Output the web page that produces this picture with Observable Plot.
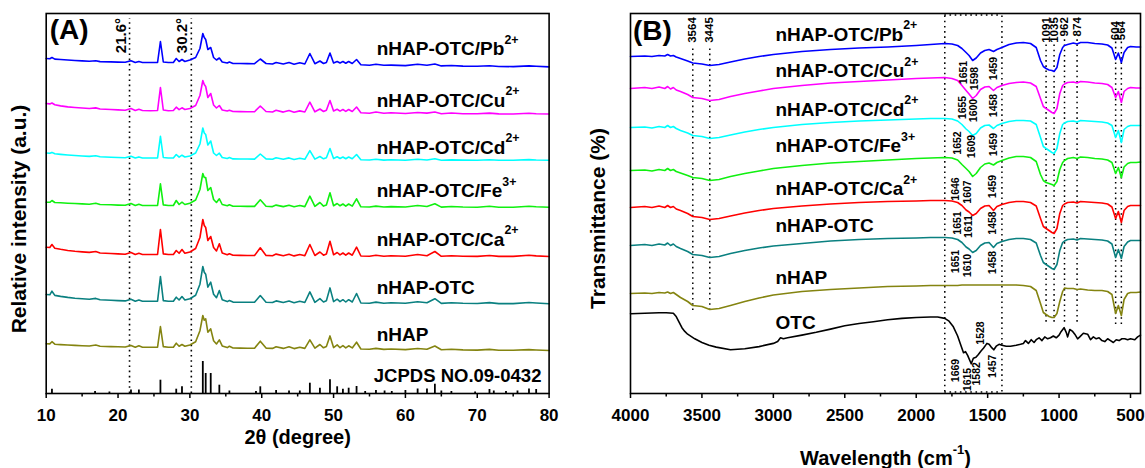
<!DOCTYPE html>
<html><head><meta charset="utf-8">
<script src="https://cdn.jsdelivr.net/npm/d3@7"></script>
<script src="https://cdn.jsdelivr.net/npm/@observablehq/plot@0.6"></script>
<style>
html,body{margin:0;padding:0;background:#fff;}
#fig{display:flex;width:1145px;height:468px;overflow:hidden;}
#fig svg{overflow:visible;}
</style></head><body><div id="fig"></div>
<script>
// ---------------- Panel A: XRD ----------------
const xrdAngles = [10,10.5,10.8,11.2,12,13,14,15,16,16.9,17.5,19,20,21,21.8,22.4,22.9,23.4,24.5,25.5,25.9,26.3,27,27.7,28.1,28.5,28.9,29.3,30,30.8,31.4,31.8,32.0,32.2,32.5,32.9,33.3,33.7,34.1,34.5,35.2,35.5,36,37,38,39,39.8,40.6,41.5,42.0,43,43.8,44.5,45.3,46,46.7,47.4,48.1,48.6,49.0,49.5,50.0,50.5,50.9,51.3,51.7,52.1,52.6,53.2,53.8,55,55.9,57,58,60,61.7,63,64.1,65,66.4,68,70,71.7,73,75,77.2,78.2,80];
const xrdPb = [4,3.8,5,3.4,3,2.5,2,1.6,1.2,1.8, 0.9,0.6,0.4,0.2,1.8,0,1,0,0,0, 21,0.5,0,0,4,1,3,1,2.5,5, 14,29,25,23,13,15,5,2.5,4.5,0.5, -0.5,0.5,-1,-1,-1.1,-1.2,3.5,-1,-1.5,0, -1.5,0,-1.7,-0.3,-1.5,9,-1.2,1.5,-1,0, 9.5,-0.5,1,-0.5,1,-0.8,1,-1,3,-2.2, -2.7,-1.8,-2.8,-2.6,-3.1,-1.8,-2.8,-1.5,-3.4,-3, -3.6,-3.8,-3.2,-4,-4.1,-3.4,-3.8,-4.4];
const xrdCu = [7,6.6,7.5,5.8,4.6,3.6,3,2.5,2,2.6, 1.5,1,0.6,0.3,2,0,1.2,0,-0.2,0, 23,0.5,-0.2,0,3.3,0.8,2.7,1,2,5, 15,30,26,24,13,17,5.5,2.5,5,0.5, -0.5,0.3,-1,-1.1,-1.2,-1.2,4.5,-1,-1.5,0.2, -1.6,0,-1.8,-0.4,-1.5,8.3,-1.3,1.5,-1,0.3, 10,-0.5,1.2,-0.6,1,-0.9,1,-1,3.5,-2.3, -2.7,-1.5,-2.8,-2.3,-3,-2,-2.6,-1.5,-3.2,-2.5, -3.2,-3.3,-2.6,-3.4,-3.5,-2.8,-3.2,-3.5];
const xrdCd = [5,4.7,5.6,4.2,3.6,3,2.5,2,1.6,2.2, 1.2,0.8,0.5,0.3,1.8,0,1.1,0,0,0, 21.7,0.5,0,0,3.5,0.8,2.8,1,2,5, 14,30,25,23.5,13,17,5,2.5,4.8,0.5, -0.5,0.4,-0.9,-1,-1,-1.1,4,-0.9,-1.3,0.2, -1.3,0.1,-1.5,-0.2,-1.3,7.3,-1.1,1.5,-0.8,0.2, 9.5,-0.4,1.2,-0.5,1,-0.7,1,-0.8,3.5,-1.8, -2,-1.2,-2.1,-1.8,-2.2,-1.3,-2,-0.8,-2.3,-1.9, -2.1,-2.3,-1.7,-2.3,-2.3,-1.6,-2,-2.2];
const xrdFe = [3.3,3.2,5,3,2.7,2.3,2,1.6,1.3,2.3, 1,0.7,0.4,0.2,1.9,0,1.2,0,0,0, 21.7,0.6,0,0,5,1,3.3,1,2.3,5.5, 16,32,28,28,15,18,6,3,6.7,1, -0.3,0.7,-0.7,-0.8,-0.9,-0.9,5.7,-0.8,-1.1,0.4, -1.1,0.3,-1.2,0,-1.1,9.3,-0.9,3,-0.6,0.5, 12.7,-0.2,2,-0.3,1.5,-0.6,1.5,-0.6,6.7,-1.3, -1.5,-0.6,-1.5,-1.1,-1.5,0,-1,1.8,-1.6,-1, -1.5,-1.7,-0.8,-1.7,-1.7,-0.8,-1.3,-1.7];
const xrdCa = [7.3,7,10,6.3,5.2,4,3.2,2.6,2.1,3, 1.5,1,0.6,0.3,2,0,1.2,0,0,0, 25,0.6,0,0,4,1.2,5,1.2,2.5,6, 17,35,29,27,14,18,7,3.5,10.7,1.5, -0.3,0.8,-0.8,-0.9,-1,-1,6.7,-0.9,-1.2,0.4, -1.2,0.3,-1.4,0,-1.2,10,-1,2.5,-0.7,0.5, 13.3,-0.3,2,-0.4,1.5,-0.7,1.5,-0.7,7.3,-1.5, -1.7,-0.7,-1.7,-1.2,-1.7,0,-1.2,3,-1.8,-1.2, -1.7,-1.9,-1,-1.9,-1.9,-0.8,-1.4,-2];
const xrdOTC = [6.7,6.4,10,5.8,4.8,3.8,3,2.5,2,2.8, 1.4,0.9,0.6,0.3,2,0,1.2,0,0,0, 24.7,0.6,0,0,4,1.2,4.7,1.2,2.5,6, 17,34.7,29,27,14,19,7,3.5,10.7,1.5, -0.4,0.7,-0.9,-1,-1.1,-1.1,5.7,-1,-1.3,0.3, -1.3,0.2,-1.5,-0.1,-1.3,9.3,-1.1,2.5,-0.8,0.4, 13.3,-0.4,2,-0.5,1.5,-0.8,1.5,-0.8,7.7,-1.8, -2,-0.9,-2,-1.5,-2.1,-0.5,-1.6,2.5,-2.2,-1.6, -2.1,-2.3,-1.4,-2.4,-2.4,-1.3,-1.8,-2.6];
const xrdHAP = [3.5,3.3,5.5,3,2.6,2.2,1.8,1.5,1.2,2.2, 0.9,0.6,0.4,0.2,1.8,0,1.4,0,0,0, 20.7,0.6,0,0,4,1,2.7,1,2.2,5.5, 16.5,31.7,27,28.3,15,18.3,6.5,3.2,7.3,1.3, -0.4,0.9,-0.8,-0.9,-1,-1,6,-0.9,-1.2,0.4, -1.2,0.4,-1.4,0,-1.2,7.3,-1,2.7,-0.6,0.7, 11.3,-0.4,2.3,-0.5,1.6,-0.7,1.4,-0.7,5,-1.8, -2.1,-1.2,-2.2,-1.8,-2.4,-1.3,-2.1,1.2,-2.6,-2.1, -2.7,-2.9,-2.2,-3,-3,-2.4,-2.8,-3.3];
const xrdSeries = [xrdPb, xrdCu, xrdCd, xrdFe, xrdCa, xrdOTC, xrdHAP];
const xrdNames = ["nHAP-OTC/Pb^2+", "nHAP-OTC/Cu^2+", "nHAP-OTC/Cd^2+", "nHAP-OTC/Fe^3+", "nHAP-OTC/Ca^2+", "nHAP-OTC", "nHAP"];
const xrdColors = ["#0000ff", "#ff00ff", "#00ffff", "#10f010", "#ff0000", "#0a8080", "#848410"];
const xrdOffsets = [331, 283, 235.5, 188, 139, 92.3, 46.3];
const xrdLabelY = [338.7, 287, 240, 196.3, 148, 100, 53];
const xrdLabelAngle = 56;
const jcpdsName = "JCPDS NO.09-0432";
const jcpdsLabelY = 11.3;
const jcpdsAngles = [10.8,16.8,18.8,21.8,22.9,25.9,28.1,28.9,31.8,32.2,32.9,34.1,35.5,39.2,39.8,42.0,43.8,45.3,46.7,48.1,49.5,50.5,51.3,52.1,53.2,54.4,55.9,57.1,58.1,60.0,61.7,63.0,64.1,65.0,66.4,69.7,71.7,72.3,74.0,75.6,77.2,78.2];
const jcpdsHeights = [4.3,2,1.5,3.5,3.5,13.3,4.3,6.7,32,20,20,8.3,2.5,2,6.7,3,2.5,2.5,10.3,5.3,13.7,6.7,4.3,5.3,7,2,3,2.5,2,3,4.5,4.5,9.3,2.5,2,1.5,4,2.5,2,2.5,4.5,4];
const xrdMarkers = [21.6, 30.2];
const xrdMarkerText = ["21.6°", "30.2°"];
const xrdMajorTicks = [10,20,30,40,50,60,70,80];
const xrdMinorTicks = [15,25,35,45,55,65,75];

// ---------------- Panel B: FTIR ----------------
const ftirGrid = [4000,3900,3850,3800,3760,3740,3720,3700,3680,3650,3600,3564,3500,3445,3380,3300,3200,3100,3000,2800,2600,2400,2200,2000,1900,1800,1750,1710,1680,1651,1630,1605,1580,1550,1520,1490,1459,1435,1400,1350,1300,1250,1200,1160,1130,1110,1091,1070,1050,1035,1015,995,975,962,940,900,874,850,800,750,700,660,630,604,585,564,545,520,500,460,430];
const ftirPb = [0,0.5,0,1,0.5,2,0.5,1,-0.5,-2, -4.5,-6.5,-7.5,-9,-8,-5.5,-2.5,0,2,5, 7,8.5,9.5,11,12,13,12.5,11,8,4, 1,-4,-1.5,3.5,6,7,5,7,9,12, 13.5,14,13,9,-4,-10,-12,-13.5,-14,-15, -11,2,9,11,12,13.5,12.5,14,14,13, 12.5,11.5,8.5,-3,3.5,-6,4,9,10,9.5, 9.5];
const ftirCu = [0,1,0,1.5,0,2,-0.5,1,-1.5,-3, -6,-9,-10,-12,-11,-8,-5,-2.5,0,3, 5.5,7,8.5,10,10.5,11,10,8,3,-2, -5.5,-10,-7,-1,1.5,2,-2,1,3,5, 6,6.5,5.5,2,-10,-18,-20,-22,-24,-25, -20,-5,3,4.5,6,6.5,5.5,7,6.5,5.5, 5,4,1,-9,-3,-14,-3,0,1,0.5, 0.5];
const ftirCd = [0,0.5,-0.5,1,0,2,0,1,-1,-3, -5.5,-8,-9,-11,-10,-7.5,-4.5,-2,0,3, 5,6.5,7.5,8.5,9,9,8.5,6.5,3,-1.5, -4,-8,-6,-0.5,2,2.5,-1,2,4,6, 7,7,6.5,3,-10,-19,-21,-23,-25,-26, -21,-6,3,4.5,6,6.5,5.5,7,6.5,6, 5.5,4.5,2,-10,-3,-15,-2,1,2,2, 2];
const ftirFe = [0,0.5,-0.5,1,0,2,0,1,-1,-2.5, -5,-7,-8,-10,-9,-6,-3,-0.5,2,5, 7.5,9,10.5,12,12.5,13,12.5,10.5,6,2, -1,-6,-3,3,6.5,7.5,5.5,8,10,12.5, 14,14,13,9,-4,-10,-12,-13,-14,-15, -11,1,8,10,12,13,12,13.5,13,12, 11.5,10.5,8,-3,3,-7,3.5,7,8,8, 8.5];
const ftirCa = [0,1,0,1.5,0,2,0,1,-1.5,-3, -6,-9,-10,-12,-11,-8.5,-5.5,-3,-1,1.5, 3.5,5,6,6.5,7,7,6.5,5,2,-2.5, -4.5,-8,-6,-1,1.5,2,-3,1,3,5, 6,6,5,1.5,-11,-19,-21,-23,-25,-26, -21,-6,2,3.5,5,5.5,4.5,6,5.5,5, 4.5,3.5,0.5,-11,-4,-15,-3,1,2,2, 2];
const ftirOTCc = [0,1,0,1.5,0.5,2.5,0,1.5,-1,-3, -6,-9,-10,-12,-11,-8,-5,-2.5,-0.5,2, 4.5,6,7,7.5,8,8,7.5,6,3,-1.5, -3.5,-7,-5,0,2.5,3,-2,2,4,6, 7,7,6,2.5,-10,-17,-19,-21,-23,-24, -19,-5,3,4.5,6,6.5,5.5,7,6.5,6, 5.5,4.5,1.5,-12,-4,-13,-1,3.5,5,5, 5];
const ftirHAP = [0,0.5,0,1,0.5,1.5,0,1,-1,-4, -8,-12,-13,-16,-15,-12,-8,-4.5,-1.5,2, 4,5.5,7,7.5,8,8,8,8,8.5,8.5, 8.5,8.5,8.5,8.5,8.5,8.5,8.5,8.5,8.5,8.5, 8.5,8,7,3,-10,-19,-21,-23,-24,-24, -20,-8,2,5.5,5,5,4,4.5,3.5,3, 3,2,-1,-20,-12,-22,-6,0,1,1, 1.5];
const ftirSeries = [ftirPb, ftirCu, ftirCd, ftirFe, ftirCa, ftirOTCc, ftirHAP];
const ftirOffsets = [337, 305, 266, 223, 186, 148, 100];
const ftirColors = xrdColors;
const otcWn = [4000,3900,3800,3750,3700,3680,3660,3640,3620,3600,3550,3500,3450,3400,3300,3200,3100,3000,2970,2950,2930,2900,2800,2700,2600,2500,2400,2300,2200,2100,2000,1900,1850,1800,1770,1740,1710,1690,1669,1655,1640,1615,1600,1582,1565,1545,1528,1505,1490,1475,1457,1440,1420,1400,1370,1340,1300,1270,1250,1235,1215,1195,1175,1160,1140,1120,1100,1080,1060,1040,1020,1000,985,965,950,940,925,905,890,870,855,830,800,780,760,740,720,700,680,660,640,620,600,580,560,540,520,500,470,450,430];
const otcT = [0,0.5,1,1,0.5,-2.8,-8.3,-13.9,-17.6,-20.4,-25,-28.7,-31.5,-33.3,-36,-35,-32.8,-29.6,-27.8,-24,-25,-24,-21.3,-18.5,-15.3,-12,-9.7,-7.9,-6,-4.6,-3.7,-3.2,-3.2,-4.6,-7.4,-13,-22.2,-30.5,-38.9,-37.9,-41.6,-50,-44.4,-43.5,-40.7,-37,-34.2,-29.6,-30.5,-33.3,-36,-32.4,-30.5,-31.5,-32.4,-32.4,-31.5,-30.5,-29.6,-26.8,-29.6,-25.9,-28.7,-25.9,-24,-26.8,-23.1,-25,-24,-22.2,-24,-21.3,-17.6,-13.9,-18.5,-23.1,-15.7,-17.6,-20.4,-25,-23.1,-19.4,-20.4,-25.9,-23.1,-25,-24,-26.8,-27.8,-25,-26.8,-28.7,-25.9,-26.8,-25,-25,-25.9,-25,-25.9,-23.1,-21.3];
const otcOffset = 79.7;
const ftirNames = ["nHAP-OTC/Pb^2+", "nHAP-OTC/Cu^2+", "nHAP-OTC/Cd^2+", "nHAP-OTC/Fe^3+", "nHAP-OTC/Ca^2+", "nHAP-OTC", "nHAP", "OTC"];
const ftirLabelY = [353, 316.3, 278, 241.3, 198.7, 161.3, 109.7, 64.7];
const ftirLabelWn = 2985;
const ftirTopText = ["3564", "3445", "1091", "1035", "962", "874", "604", "564"];
const ftirTopWn = [3564, 3445, 1091, 1035, 962, 874, 604, 564];
const ftirTopEnd = [376.3, 376.3, 376.3, 376.3, 376.3, 376.3, 372.5, 372.5];
const ftirMarkTop = [346, 346, 350, 350, 355, 355, 353, 353];
const ftirMarkBottom = [83, 83, 71.3, 71.3, 71.3, 71.3, 69, 69];
const ftirBox = [1800, 1400];
const ftirBoxT = [1.5, 378.5];
const peakText = ["1651","1598","1459", "1655","1600","1458", "1652","1609","1459", "1646","1607","1459", "1651","1611","1458", "1651","1610","1458", "1669","1615","1582","1457","1528"];
const peakWn = [1666,1592,1457, 1676,1599,1459, 1713,1615,1457, 1725,1643,1468, 1711,1634,1468, 1725,1641,1466, 1725,1638,1575,1462,1550];
const peakT = [321,315,325, 286,283,288, 250.5,247,249, 204.5,201.5,207, 170.5,167,170.5, 132,128,131, 23,14,19.7,27.2,60.5];
const ftirMajorTicks = [4000,3500,3000,2500,2000,1500,1000,500];
const ftirMinorTicks = [3750,3250,2750,2250,1750,1250,750];

// ---------------- helpers ----------------
const FONT = "'Liberation Sans', Arial, Helvetica, sans-serif";
const dots = "1.6 3.6";
const SVGNS = "http://www.w3.org/2000/svg";
const plainInt = d => String(d);
function supify(root, scale = 0.65, raise = 0.58) {
  root.querySelectorAll("text").forEach(t => {
    const s = t.textContent;
    if (s.indexOf("^") < 0) return;
    const parts = s.split(/(\^[^_]*_?)/);
    t.textContent = "";
    let ret = false;
    parts.forEach(p => {
      if (!p) return;
      const ts = document.createElementNS(SVGNS, "tspan");
      if (p[0] === "^") {
        const closes = p.endsWith("_");
        ts.textContent = p.slice(1, closes ? -1 : undefined);
        ts.setAttribute("font-size", (scale * 100) + "%");
        ts.setAttribute("dy", (-raise / scale).toFixed(3) + "em");
        ret = closes;
      } else {
        ts.textContent = p;
        if (ret) { ts.setAttribute("dy", raise + "em"); ret = false; }
      }
      t.appendChild(ts);
    });
  });
}

// ---------------- Panel A plot ----------------
const plotA = Plot.plot({
  width: 575, height: 468,
  marginLeft: 45.7, marginRight: 26.4, marginTop: 13, marginBottom: 75,
  x: {domain: [10, 80]},
  y: {domain: [0, 380], axis: null},
  style: {fontFamily: FONT, background: "white", color: "black", fontSize: "17px"},
  marks: [
    Plot.ruleX(xrdMarkers, {x: d => d, y1: 0, y2: 375, stroke: "black", strokeWidth: 1.6, strokeDasharray: dots}),
    Plot.ruleX(jcpdsAngles, {x: d => d, y1: 0, y2: (d, i) => jcpdsHeights[i], stroke: "black", strokeWidth: 1.8}),
    ...xrdSeries.map((vals, i) => Plot.line(vals, {x: (d, j) => xrdAngles[j], y: d => d + xrdOffsets[i], stroke: xrdColors[i], strokeWidth: 1.6})),
    Plot.text(xrdNames, {x: () => xrdLabelAngle, y: (d, i) => xrdLabelY[i], text: d => d, textAnchor: "start", lineAnchor: "bottom", fontSize: 19, fontWeight: "bold", fill: "black"}),
    Plot.text([jcpdsName], {x: () => xrdLabelAngle - 0.4, y: () => jcpdsLabelY, text: d => d, textAnchor: "start", lineAnchor: "bottom", fontSize: 18.5, fontWeight: "bold", fill: "black"}),
    Plot.text(xrdMarkerText, {x: (d, i) => xrdMarkers[i], y: () => 375.5, text: d => d, rotate: -90, textAnchor: "end", lineAnchor: "bottom", dx: -4, fontSize: 15, fontWeight: "bold", fill: "black"}),
    Plot.text(["(A)"], {frameAnchor: "top-left", dx: 3.5, dy: 6, textAnchor: "start", lineAnchor: "top", fontSize: 28, fontWeight: "bold", fill: "black"}),
    Plot.text(["Relative intensity (a.u.)"], {frameAnchor: "left", dx: -27, dy: 15.5, rotate: -90, textAnchor: "middle", lineAnchor: "middle", fontSize: 21, fontWeight: "bold", fill: "black"}),
    Plot.text(["2θ (degree)"], {frameAnchor: "bottom", dy: 44, textAnchor: "middle", lineAnchor: "middle", fontSize: 20, fontWeight: "bold", fill: "black"}),
    Plot.axisX(xrdMajorTicks, {anchor: "bottom", tickSize: 5, tickPadding: 10, tickFormat: plainInt, strokeWidth: 1.5, fontSize: 17, fontWeight: "bold", label: null}),
    Plot.axisX(xrdMinorTicks, {anchor: "bottom", tickSize: 3.5, text: null, strokeWidth: 1.5, label: null}),
    Plot.frame({stroke: "black", strokeWidth: 1.6})
  ]
});

// ---------------- Panel B plot ----------------
const plotB = Plot.plot({
  width: 570, height: 468,
  marginLeft: 55, marginRight: 5, marginTop: 13, marginBottom: 75,
  x: {domain: [4000, 430]},
  y: {domain: [0, 380], axis: null},
  style: {fontFamily: FONT, background: "white", color: "black", fontSize: "17px"},
  marks: [
    Plot.ruleX(ftirTopWn, {x: d => d, y1: (d, i) => ftirMarkBottom[i], y2: (d, i) => ftirMarkTop[i], stroke: "black", strokeWidth: 1.5, strokeDasharray: dots}),
    Plot.ruleX(ftirBox, {x: d => d, y1: ftirBoxT[0], y2: ftirBoxT[1], stroke: "black", strokeWidth: 1.5, strokeDasharray: dots}),
    Plot.ruleY(ftirBoxT, {y: d => d, x1: ftirBox[0], x2: ftirBox[1], stroke: "black", strokeWidth: 1.5, strokeDasharray: dots}),
    ...ftirSeries.map((vals, i) => Plot.line(vals, {x: (d, j) => ftirGrid[j], y: d => d + ftirOffsets[i], stroke: ftirColors[i], strokeWidth: 1.6})),
    Plot.line(otcT, {x: (d, j) => otcWn[j], y: d => d + otcOffset, stroke: "black", strokeWidth: 1.6}),
    Plot.text(ftirNames, {x: () => ftirLabelWn, y: (d, i) => ftirLabelY[i], text: d => d, textAnchor: "start", lineAnchor: "bottom", fontSize: 19, fontWeight: "bold", fill: "black"}),
    Plot.text(ftirTopText, {x: (d, i) => ftirTopWn[i], y: (d, i) => ftirTopEnd[i], text: d => d, rotate: -90, textAnchor: "end", lineAnchor: "middle", fontSize: 11.5, fontWeight: "bold", fill: "black"}),
    Plot.text(peakText, {x: (d, i) => peakWn[i], y: (d, i) => peakT[i], text: d => d, rotate: -90, textAnchor: "middle", lineAnchor: "middle", fontSize: 10.5, fontWeight: "bold", fill: "black"}),
    Plot.text(["(B)"], {frameAnchor: "top-left", dx: 2.5, dy: 7, textAnchor: "start", lineAnchor: "top", fontSize: 28, fontWeight: "bold", fill: "black"}),
    Plot.text(["Transmittance (%)"], {frameAnchor: "left", dx: -32, dy: 15, rotate: -90, textAnchor: "middle", lineAnchor: "middle", fontSize: 21, fontWeight: "bold", fill: "black"}),
    Plot.text(["Wavelength (cm^-1_)"], {frameAnchor: "bottom", dy: 65.5, textAnchor: "middle", lineAnchor: "middle", fontSize: 20, fontWeight: "bold", fill: "black"}),
    Plot.axisX(ftirMajorTicks, {anchor: "bottom", tickSize: 5, tickPadding: 10, tickFormat: plainInt, strokeWidth: 1.5, fontSize: 17, fontWeight: "bold", label: null}),
    Plot.axisX(ftirMinorTicks, {anchor: "bottom", tickSize: 3.5, text: null, strokeWidth: 1.5, label: null}),
    Plot.frame({stroke: "black", strokeWidth: 1.6})
  ]
});

const fig = document.getElementById("fig");
fig.appendChild(plotA);
fig.appendChild(plotB);
supify(plotA);
supify(plotB);
</script></body></html>
